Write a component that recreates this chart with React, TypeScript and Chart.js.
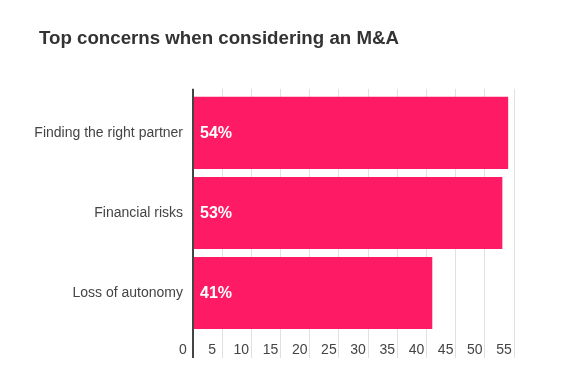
import React, { useEffect, useRef } from "react";
import { Chart, registerables } from "chart.js";

Chart.register(...registerables);

const titleText = "Top concerns when considering an M&A";
const categories = ["Finding the right partner", "Financial risks", "Loss of autonomy"];
const values = [54, 53, 41];
const axisMin = 0;
const axisMax = 55;
const axisStep = 5;

const FONT = "'Liberation Sans', Arial, sans-serif";
const BAR = "#ff1a66";
const GRID = "#e0e0e0";
const AXIS = "#444444";

const barLabels = {
  id: "barLabels",
  afterDatasetsDraw(chart: any) {
    const ctx = chart.ctx;
    const meta = chart.getDatasetMeta(0);
    ctx.save();
    ctx.fillStyle = "#ffffff";
    ctx.font = `bold 16px ${FONT}`;
    ctx.textAlign = "left";
    ctx.textBaseline = "middle";
    meta.data.forEach((el: any, i: number) => {
      const v = chart.data.datasets[0].data[i];
      ctx.fillText(`${v}%`, el.base + 6, el.y + 0.5);
    });
    ctx.restore();
  },
};

// let the category labels extend left of the title's left edge without being clipped
const widenLabelArea = {
  id: "widenLabelArea",
  afterLayout(chart: any) {
    const y = chart.scales.y;
    if (y) y.left = 0;
  },
};

export default function App() {
  const ref = useRef<HTMLCanvasElement>(null);
  useEffect(() => {
    if (!ref.current) return;
    const gridColor = (c: any) => (c.index === 0 ? AXIS : GRID);
    const gridWidth = (c: any) => (c.index === 0 ? 2 : 1);
    const chart = new Chart(ref.current, {
      type: "bar",
      data: {
        labels: categories,
        datasets: [
          {
            data: values,
            backgroundColor: BAR,
            borderWidth: 0,
            categoryPercentage: 0.9,
            barPercentage: 1,
          },
        ],
      },
      plugins: [barLabels, widenLabelArea],
      options: {
        indexAxis: "y",
        animation: false,
        responsive: false,
        layout: { padding: { left: 39, right: 72, top: 0, bottom: 0 } },
        plugins: {
          legend: { display: false },
          tooltip: { enabled: false },
          title: {
            display: true,
            text: titleText,
            align: "start",
            color: "#333333",
            font: { family: FONT, size: 18.7, weight: "bold" },
            padding: { top: 28, bottom: 38.4 },
          },
        },
        scales: {
          x: {
            type: "linear",
            position: "bottom",
            min: axisMin,
            max: axisMax,
            grid: {
              color: gridColor,
              lineWidth: gridWidth,
              drawTicks: true,
              tickLength: 25,
              tickColor: gridColor,
              tickWidth: gridWidth,
            },
            border: { display: false },
            ticks: {
              stepSize: axisStep,
              color: AXIS,
              font: { family: FONT, size: 14 },
              padding: -16,
              labelOffset: -10,
              maxRotation: 0,
            },
            afterFit: (scale: any) => {
              scale.height = 37;
            },
          },
          x2: {
            type: "linear",
            position: "top",
            min: axisMin,
            max: axisMax,
            grid: {
              drawOnChartArea: false,
              drawTicks: true,
              tickLength: 4,
              color: gridColor,
              lineWidth: gridWidth,
              tickColor: gridColor,
              tickWidth: gridWidth,
            },
            border: { display: false },
            ticks: { display: false, stepSize: axisStep },
          },
          y: {
            type: "category",
            grid: { display: false, drawTicks: false },
            border: { display: false },
            ticks: {
              color: AXIS,
              font: { family: FONT, size: 14 },
              padding: 10,
            },
            afterFit: (scale: any) => {
              scale.width = 154;
            },
          },
        },
      },
    });
    return () => chart.destroy();
  }, []);
  return (
    <div style={{ position: "absolute", left: 0, top: 0, width: 586, height: 370, background: "#fff" }}>
      <canvas ref={ref} width={586} height={370} style={{ display: "block" }} />
    </div>
  );
}
